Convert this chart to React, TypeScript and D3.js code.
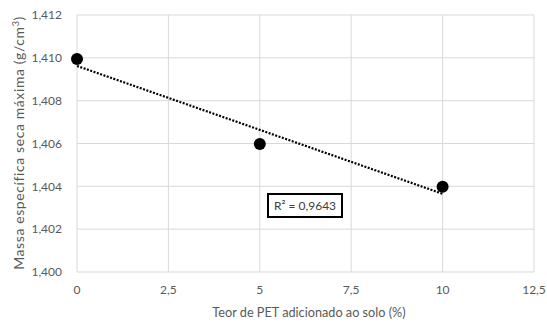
import React from "react";
import * as d3 from "d3";

const xValues = [0, 5, 10];
const yValues = [1.40995, 1.40598, 1.40398];
const xTicks = [0, 2.5, 5, 7.5, 10, 12.5];
const yTicks = [1.4, 1.402, 1.404, 1.406, 1.408, 1.41, 1.412];
const r2Label = "R² = 0,9643";
const xTitle = "Teor de PET adicionado ao solo (%)";
const yTitle = "Massa específica seca máxima (g/cm";

const W = 547;
const H = 323;
const m = { left: 77, right: 13, top: 15, bottom: 51 };
const font = "Lato, 'Open Sans', sans-serif";

export default function App() {
  const x = d3.scaleLinear().domain([0, 12.5]).range([m.left, W - m.right]);
  const y = d3.scaleLinear().domain([1.4, 1.412]).range([H - m.bottom, m.top]);

  const n = xValues.length;
  const mx = d3.mean(xValues)!;
  const my = d3.mean(yValues)!;
  let sxy = 0, sxx = 0;
  for (let i = 0; i < n; i++) {
    sxy += (xValues[i] - mx) * (yValues[i] - my);
    sxx += (xValues[i] - mx) ** 2;
  }
  const slope = sxy / sxx;
  const icpt = my - slope * mx;
  const x0 = d3.min(xValues)!;
  const x1 = d3.max(xValues)!;
  const fmtY = (v: number) => v.toFixed(3).replace(".", ",");
  const fmtX = (v: number) => String(v).replace(".", ",");

  return (
    <svg width={W} height={H} style={{ position: "absolute", left: 0, top: 0, background: "#fff" }}>
      <g>
        {yTicks.map((t) => (
          <line key={"gy" + t} x1={x(0)} x2={x(12.5)} y1={y(t)} y2={y(t)} stroke="#d9d9d9" strokeWidth={1} />
        ))}
        {xTicks.map((t) => (
          <line key={"gx" + t} x1={x(t)} x2={x(t)} y1={y(1.4)} y2={y(1.412)} stroke="#d9d9d9" strokeWidth={1} />
        ))}
      </g>
      {yTicks.map((t) => (
        <text key={"ly" + t} x={m.left - 15} y={y(t)} dy="0.35em" textAnchor="end" fontFamily={font} fontSize={12} fill="#595959">
          {fmtY(t)}
        </text>
      ))}
      {xTicks.map((t) => (
        <text key={"lx" + t} x={x(t)} y={H - m.bottom + 22} textAnchor="middle" fontFamily={font} fontSize={12} fill="#595959">
          {fmtX(t)}
        </text>
      ))}
      <line
        x1={x(x0)}
        y1={y(icpt + slope * x0)}
        x2={x(x1)}
        y2={y(icpt + slope * x1)}
        stroke="#000"
        strokeWidth={2.2}
        strokeDasharray="2,1.5"
      />
      {xValues.map((xv, i) => (
        <circle key={"p" + i} cx={x(xv)} cy={y(yValues[i])} r={6} fill="#000" />
      ))}
      <rect x={268} y={194} width={74} height={23} fill="#fff" stroke="#000" strokeWidth={2} />
      <text x={305} y={206} dy="0.35em" textAnchor="middle" fontFamily={font} fontSize={12} fill="#404040">
        {r2Label}
      </text>
      <text x={309} y={317} textAnchor="middle" fontFamily={font} fontSize={12.7} fill="#595959">
        {xTitle}
      </text>
      <text
        transform={`translate(24, 143) rotate(-90)`}
        textAnchor="middle"
        fontFamily={font}
        fontSize={14}
        letterSpacing={0.6}
        fill="#595959"
      >
        {yTitle}
        <tspan dy="-5" fontSize={9}>3</tspan>
        <tspan dy="5">)</tspan>
      </text>
    </svg>
  );
}
